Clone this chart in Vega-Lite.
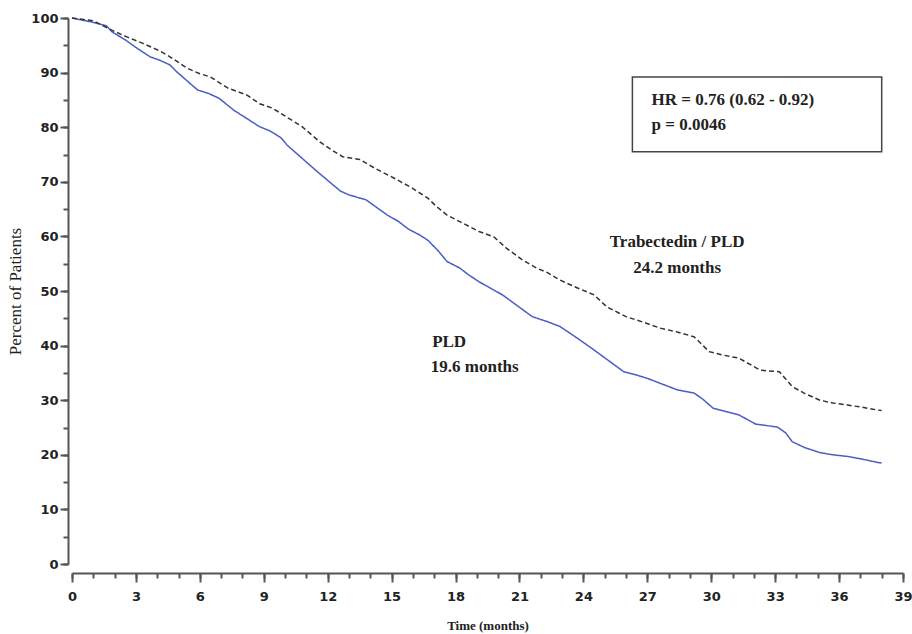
{
  "$schema": "https://vega.github.io/schema/vega-lite/v6.json",
  "width": 831,
  "height": 546,
  "autosize": "none",
  "padding": {"left": 72, "top": 18, "right": 9, "bottom": 70},
  "background": "white",
  "config": {"view": {"stroke": null}},
  "resolve": {"axis": {"x": "independent", "y": "independent"}},
  "datasets": {
    "curves": [
      {"t": 0, "pct": 100, "arm": "PLD"}, {"t": 1, "pct": 99.2, "arm": "PLD"}, {"t": 1.6, "pct": 98.6, "arm": "PLD"}, {"t": 1.9, "pct": 97.4, "arm": "PLD"}, {"t": 2.5, "pct": 96, "arm": "PLD"}, {"t": 3, "pct": 94.6, "arm": "PLD"}, {"t": 3.66, "pct": 92.9, "arm": "PLD"}, {"t": 4.1, "pct": 92.3, "arm": "PLD"}, {"t": 4.6, "pct": 91.4, "arm": "PLD"}, {"t": 4.9, "pct": 90.2, "arm": "PLD"}, {"t": 5.4, "pct": 88.5, "arm": "PLD"}, {"t": 5.9, "pct": 86.8, "arm": "PLD"}, {"t": 6.4, "pct": 86.2, "arm": "PLD"}, {"t": 6.9, "pct": 85.3, "arm": "PLD"}, {"t": 7.6, "pct": 83.1, "arm": "PLD"}, {"t": 8.2, "pct": 81.6, "arm": "PLD"}, {"t": 8.8, "pct": 80.1, "arm": "PLD"}, {"t": 9.3, "pct": 79.3, "arm": "PLD"}, {"t": 9.8, "pct": 78.1, "arm": "PLD"}, {"t": 10.1, "pct": 76.7, "arm": "PLD"}, {"t": 10.8, "pct": 74.3, "arm": "PLD"}, {"t": 11.5, "pct": 71.9, "arm": "PLD"}, {"t": 12.2, "pct": 69.6, "arm": "PLD"}, {"t": 12.6, "pct": 68.3, "arm": "PLD"}, {"t": 13, "pct": 67.6, "arm": "PLD"}, {"t": 13.8, "pct": 66.7, "arm": "PLD"}, {"t": 14.3, "pct": 65.3, "arm": "PLD"}, {"t": 14.8, "pct": 63.9, "arm": "PLD"}, {"t": 15.3, "pct": 62.8, "arm": "PLD"}, {"t": 15.8, "pct": 61.3, "arm": "PLD"}, {"t": 16.3, "pct": 60.3, "arm": "PLD"}, {"t": 16.7, "pct": 59.3, "arm": "PLD"}, {"t": 17.2, "pct": 57.3, "arm": "PLD"}, {"t": 17.6, "pct": 55.4, "arm": "PLD"}, {"t": 18.2, "pct": 54.2, "arm": "PLD"}, {"t": 18.6, "pct": 53, "arm": "PLD"}, {"t": 19.1, "pct": 51.7, "arm": "PLD"}, {"t": 19.6, "pct": 50.6, "arm": "PLD"}, {"t": 20.2, "pct": 49.3, "arm": "PLD"}, {"t": 20.9, "pct": 47.3, "arm": "PLD"}, {"t": 21.6, "pct": 45.3, "arm": "PLD"}, {"t": 22.3, "pct": 44.4, "arm": "PLD"}, {"t": 22.9, "pct": 43.5, "arm": "PLD"}, {"t": 23.7, "pct": 41.4, "arm": "PLD"}, {"t": 24.5, "pct": 39.2, "arm": "PLD"}, {"t": 25.2, "pct": 37.2, "arm": "PLD"}, {"t": 25.9, "pct": 35.2, "arm": "PLD"}, {"t": 26.5, "pct": 34.6, "arm": "PLD"}, {"t": 27, "pct": 34, "arm": "PLD"}, {"t": 27.6, "pct": 33.1, "arm": "PLD"}, {"t": 28.4, "pct": 31.9, "arm": "PLD"}, {"t": 29.2, "pct": 31.3, "arm": "PLD"}, {"t": 29.6, "pct": 30.2, "arm": "PLD"}, {"t": 30.1, "pct": 28.5, "arm": "PLD"}, {"t": 30.7, "pct": 27.9, "arm": "PLD"}, {"t": 31.3, "pct": 27.3, "arm": "PLD"}, {"t": 32.1, "pct": 25.6, "arm": "PLD"}, {"t": 33.1, "pct": 25.1, "arm": "PLD"}, {"t": 33.5, "pct": 24, "arm": "PLD"}, {"t": 33.8, "pct": 22.4, "arm": "PLD"}, {"t": 34.4, "pct": 21.3, "arm": "PLD"}, {"t": 35.1, "pct": 20.4, "arm": "PLD"}, {"t": 35.7, "pct": 20, "arm": "PLD"}, {"t": 36.4, "pct": 19.7, "arm": "PLD"}, {"t": 37.1, "pct": 19.2, "arm": "PLD"}, {"t": 37.8, "pct": 18.6, "arm": "PLD"}, {"t": 38, "pct": 18.5, "arm": "PLD"},
      {"t": 0, "pct": 100, "arm": "Trabectedin / PLD"}, {"t": 1, "pct": 99.5, "arm": "Trabectedin / PLD"}, {"t": 1.9, "pct": 97.7, "arm": "Trabectedin / PLD"}, {"t": 2.6, "pct": 96.5, "arm": "Trabectedin / PLD"}, {"t": 3.3, "pct": 95.4, "arm": "Trabectedin / PLD"}, {"t": 4.1, "pct": 94, "arm": "Trabectedin / PLD"}, {"t": 4.6, "pct": 92.9, "arm": "Trabectedin / PLD"}, {"t": 5.4, "pct": 90.8, "arm": "Trabectedin / PLD"}, {"t": 6, "pct": 89.8, "arm": "Trabectedin / PLD"}, {"t": 6.5, "pct": 89.2, "arm": "Trabectedin / PLD"}, {"t": 7.3, "pct": 87.2, "arm": "Trabectedin / PLD"}, {"t": 8.2, "pct": 85.9, "arm": "Trabectedin / PLD"}, {"t": 8.8, "pct": 84.3, "arm": "Trabectedin / PLD"}, {"t": 9.4, "pct": 83.5, "arm": "Trabectedin / PLD"}, {"t": 10.1, "pct": 81.8, "arm": "Trabectedin / PLD"}, {"t": 10.8, "pct": 80.1, "arm": "Trabectedin / PLD"}, {"t": 11.6, "pct": 77.4, "arm": "Trabectedin / PLD"}, {"t": 12.2, "pct": 75.8, "arm": "Trabectedin / PLD"}, {"t": 12.7, "pct": 74.6, "arm": "Trabectedin / PLD"}, {"t": 13.5, "pct": 74.1, "arm": "Trabectedin / PLD"}, {"t": 14.2, "pct": 72.5, "arm": "Trabectedin / PLD"}, {"t": 15.1, "pct": 70.7, "arm": "Trabectedin / PLD"}, {"t": 15.9, "pct": 69, "arm": "Trabectedin / PLD"}, {"t": 16.7, "pct": 67, "arm": "Trabectedin / PLD"}, {"t": 17.1, "pct": 65.5, "arm": "Trabectedin / PLD"}, {"t": 17.6, "pct": 63.9, "arm": "Trabectedin / PLD"}, {"t": 18.2, "pct": 62.7, "arm": "Trabectedin / PLD"}, {"t": 19.1, "pct": 60.9, "arm": "Trabectedin / PLD"}, {"t": 19.8, "pct": 59.9, "arm": "Trabectedin / PLD"}, {"t": 20.4, "pct": 57.8, "arm": "Trabectedin / PLD"}, {"t": 21.1, "pct": 55.8, "arm": "Trabectedin / PLD"}, {"t": 21.8, "pct": 54.2, "arm": "Trabectedin / PLD"}, {"t": 22.3, "pct": 53.4, "arm": "Trabectedin / PLD"}, {"t": 22.9, "pct": 52, "arm": "Trabectedin / PLD"}, {"t": 23.7, "pct": 50.6, "arm": "Trabectedin / PLD"}, {"t": 24.5, "pct": 49.3, "arm": "Trabectedin / PLD"}, {"t": 25.1, "pct": 47.1, "arm": "Trabectedin / PLD"}, {"t": 26, "pct": 45.3, "arm": "Trabectedin / PLD"}, {"t": 26.8, "pct": 44.3, "arm": "Trabectedin / PLD"}, {"t": 27.6, "pct": 43.2, "arm": "Trabectedin / PLD"}, {"t": 28.4, "pct": 42.5, "arm": "Trabectedin / PLD"}, {"t": 29.2, "pct": 41.6, "arm": "Trabectedin / PLD"}, {"t": 29.9, "pct": 38.9, "arm": "Trabectedin / PLD"}, {"t": 30.5, "pct": 38.3, "arm": "Trabectedin / PLD"}, {"t": 31.3, "pct": 37.7, "arm": "Trabectedin / PLD"}, {"t": 32.3, "pct": 35.5, "arm": "Trabectedin / PLD"}, {"t": 33.2, "pct": 35.2, "arm": "Trabectedin / PLD"}, {"t": 33.8, "pct": 32.5, "arm": "Trabectedin / PLD"}, {"t": 34.4, "pct": 31.2, "arm": "Trabectedin / PLD"}, {"t": 35.1, "pct": 30, "arm": "Trabectedin / PLD"}, {"t": 35.7, "pct": 29.5, "arm": "Trabectedin / PLD"}, {"t": 36.4, "pct": 29.1, "arm": "Trabectedin / PLD"}, {"t": 37.1, "pct": 28.7, "arm": "Trabectedin / PLD"}, {"t": 37.8, "pct": 28.2, "arm": "Trabectedin / PLD"}, {"t": 38, "pct": 28.1, "arm": "Trabectedin / PLD"}
    ],
    "box": [{"x1": 26.3, "x2": 38.0, "y1": 75.5, "y2": 89.2}],
    "boxtext": [
      {"t": 27.2, "pct": 85.0, "label": "HR = 0.76 (0.62 - 0.92)"},
      {"t": 27.2, "pct": 80.4, "label": "p = 0.0046"}
    ],
    "armtext": [
      {"t": 28.4, "pct": 59.0, "label": "Trabectedin / PLD"},
      {"t": 28.4, "pct": 54.2, "label": "24.2 months"},
      {"t": 17.7, "pct": 40.7, "label": "PLD"},
      {"t": 18.9, "pct": 36.1, "label": "19.6 months"}
    ]
  },
  "layer": [
    {
      "data": {"name": "curves"},
      "mark": {"type": "line", "strokeWidth": 1.5, "clip": false},
      "encoding": {
        "x": {
          "field": "t", "type": "quantitative",
          "scale": {"domain": [0, 39], "nice": false, "zero": false},
          "axis": {
            "orient": "bottom",
            "title": "Time (months)",
            "titleFont": "Liberation Serif", "titleFontSize": 13, "titleFontWeight": "bold", "titleColor": "#222",
            "titlePadding": 16,
            "values": [0,3,6,9,12,15,18,21,24,27,30,33,36,39],
            "labelFont": "DejaVu Sans", "labelFontSize": 13, "labelFontWeight": "bold", "labelColor": "#222",
            "labelPadding": 8,
            "tickSize": 9,
            "tickColor": "#555", "tickWidth": 2,
            "domainColor": "#555", "domainWidth": 2,
            "offset": 9, "grid": false, "labelFlush": false, "labelOverlap": false
          }
        },
        "y": {
          "field": "pct", "type": "quantitative",
          "scale": {"domain": [0, 100], "nice": false},
          "axis": {
            "orient": "left",
            "title": "Percent of Patients",
            "titleFont": "Liberation Serif", "titleFontSize": 17, "titleFontWeight": "normal", "titleColor": "#222",
            "titlePadding": 6,
            "values": [0,10,20,30,40,50,60,70,80,90,100],
            "labelFont": "DejaVu Sans", "labelFontSize": 13, "labelFontWeight": "bold", "labelColor": "#222",
            "labelPadding": 2,
            "tickSize": 8,
            "tickColor": "#555", "tickWidth": 2,
            "domainColor": "#555", "domainWidth": 2,
            "offset": 4, "grid": false, "labelOverlap": false
          }
        },
        "color": {
          "field": "arm", "type": "nominal",
          "scale": {"domain": ["PLD", "Trabectedin / PLD"], "range": ["#4b5cc4", "#333333"]},
          "legend": null
        },
        "strokeDash": {
          "field": "arm", "type": "nominal",
          "scale": {"domain": ["PLD", "Trabectedin / PLD"], "range": [[1, 0], [5, 3]]},
          "legend": null
        }
      }
    },
    {
      "data": {"name": "box"},
      "mark": {"type": "rect", "fill": "white", "stroke": "#444", "strokeWidth": 1.5},
      "encoding": {
        "x": {
          "field": "x1", "type": "quantitative",
          "axis": {
            "orient": "bottom", "title": null, "labels": false, "domain": false, "grid": false,
            "values": [0,1,2,3,4,5,6,7,8,9,10,11,12,13,14,15,16,17,18,19,20,21,22,23,24,25,26,27,28,29,30,31,32,33,34,35,36,37,38,39],
            "tickSize": 5, "tickColor": "#555", "tickWidth": 2, "offset": 9
          }
        },
        "x2": {"field": "x2"},
        "y": {
          "field": "y1", "type": "quantitative",
          "axis": {
            "orient": "left", "title": null, "labels": false, "domain": false, "grid": false,
            "values": [0,5,10,15,20,25,30,35,40,45,50,55,60,65,70,75,80,85,90,95,100],
            "tickSize": 5, "tickColor": "#555", "tickWidth": 2, "offset": 4
          }
        },
        "y2": {"field": "y2"}
      }
    },
    {
      "data": {"name": "boxtext"},
      "mark": {"type": "text", "align": "left", "baseline": "middle", "font": "Liberation Serif", "fontSize": 17, "fontWeight": "bold", "color": "#222"},
      "encoding": {
        "x": {"field": "t", "type": "quantitative", "axis": null},
        "y": {"field": "pct", "type": "quantitative", "axis": null},
        "text": {"field": "label"}
      }
    },
    {
      "data": {"name": "armtext"},
      "mark": {"type": "text", "align": "center", "baseline": "middle", "font": "Liberation Serif", "fontSize": 17, "fontWeight": "bold", "color": "#222"},
      "encoding": {
        "x": {"field": "t", "type": "quantitative", "axis": null},
        "y": {"field": "pct", "type": "quantitative", "axis": null},
        "text": {"field": "label"}
      }
    }
  ]
}
